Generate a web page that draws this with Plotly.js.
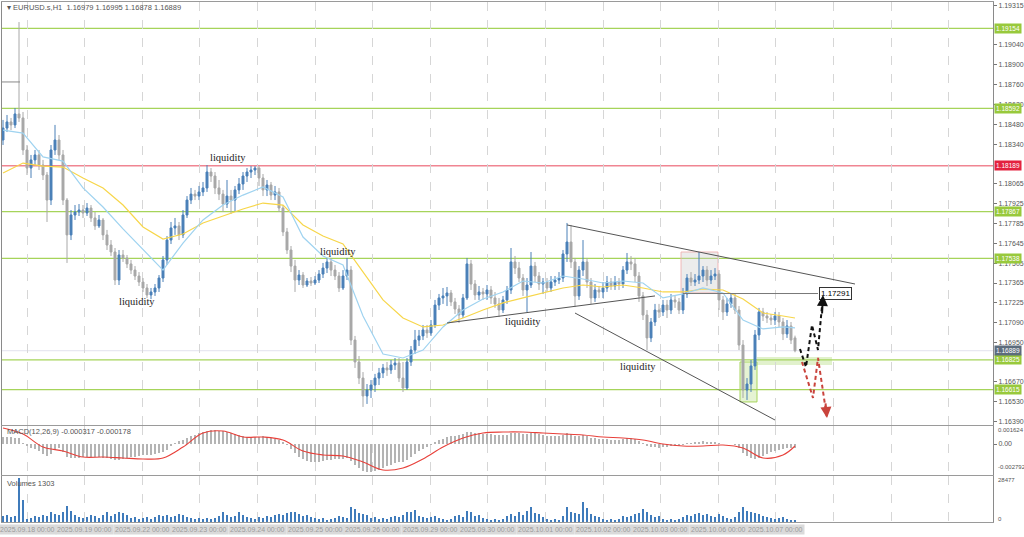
<!DOCTYPE html>
<html><head><meta charset="utf-8">
<script src="https://cdn.plot.ly/plotly-3.0.1.min.js"></script>
<style>html,body{margin:0;padding:0;background:#fff;}#chart{width:1024px;height:537px;}</style>
</head><body><div id="chart"></div>
<script>
// ---- Data (EURUSD.s, H1) ----
const openP = [
1.18370,1.18454,1.18497,1.18476,1.18553,1.18525,1.18300,1.18173,1.18230,1.18265,
1.18194,1.18124,1.17948,1.18300,1.18370,1.18265,1.17948,1.17703,1.17843,1.17864,
1.17878,1.17857,1.17892,1.17822,1.17766,1.17808,1.17703,1.17632,1.17583,1.17386,
1.17562,1.17541,1.17499,1.17456,1.17414,1.17372,1.17330,1.17281,1.17302,1.17330,
1.17400,1.17527,1.17667,1.17752,1.17766,1.17703,1.17843,1.17948,1.17990,1.17976,
1.18005,1.18033,1.18145,1.18117,1.18033,1.17990,1.17920,1.17976,1.17948,1.18019,
1.18061,1.18117,1.18145,1.18159,1.18173,1.18103,1.18019,1.18054,1.17983,1.18005,
1.17892,1.17724,1.17597,1.17484,1.17386,1.17421,1.17351,1.17379,1.17365,1.17386,
1.17428,1.17470,1.17513,1.17456,1.17414,1.17330,1.17414,1.17456,1.16964,1.16810,
1.16697,1.16571,1.16613,1.16648,1.16697,1.16733,1.16768,1.16754,1.16789,1.16803,
1.16697,1.16627,1.16810,1.16894,1.16964,1.16993,1.17035,1.17014,1.17070,1.17210,
1.17260,1.17274,1.17295,1.17232,1.17182,1.17140,1.17260,1.17499,1.17358,1.17281,
1.17302,1.17288,1.17316,1.17260,1.17218,1.17175,1.17246,1.17316,1.17513,1.17470,
1.17400,1.17316,1.17351,1.17484,1.17414,1.17358,1.17372,1.17330,1.17372,1.17386,
1.17400,1.17569,1.17653,1.17513,1.17274,1.17456,1.17513,1.17372,1.17260,1.17316,
1.17302,1.17330,1.17372,1.17344,1.17372,1.17358,1.17456,1.17513,1.17499,1.17414,
1.17274,1.17140,1.16979,1.17091,1.17175,1.17161,1.17210,1.17175,1.17246,1.17232,
1.17175,1.17288,1.17400,1.17372,1.17386,1.17414,1.17456,1.17386,1.17414,1.17428,
1.17246,1.17161,1.17218,1.17260,1.17175,1.16929,1.16613,1.16655,1.16782,1.17000,
1.17161,1.17133,1.17119,1.17105,1.17133,1.17091,1.17007,1.17063,1.16979];
const highP = [
1.18511,1.18546,1.18525,1.18595,1.19199,1.18567,1.18335,1.18265,1.18300,1.18300,
1.18230,1.18145,1.18335,1.18476,1.18405,1.18300,1.17962,1.17878,1.17913,1.17920,
1.17913,1.17927,1.17913,1.17864,1.17843,1.17822,1.17738,1.17667,1.17611,1.17597,
1.17597,1.17562,1.17527,1.17484,1.17442,1.17400,1.17358,1.17330,1.17358,1.17421,
1.17555,1.17695,1.17794,1.17822,1.17794,1.17878,1.17976,1.18033,1.18019,1.18047,
1.18075,1.18194,1.18173,1.18145,1.18089,1.18019,1.18089,1.18019,1.18047,1.18103,
1.18145,1.18173,1.18187,1.18187,1.18187,1.18131,1.18089,1.18075,1.18047,1.18033,
1.17913,1.17752,1.17625,1.17527,1.17456,1.17442,1.17400,1.17407,1.17414,1.17456,
1.17506,1.17541,1.17541,1.17492,1.17442,1.17456,1.17541,1.17484,1.16993,1.16852,
1.16739,1.16655,1.16683,1.16726,1.16768,1.16796,1.16810,1.16824,1.16838,1.16838,
1.16810,1.16838,1.16922,1.17035,1.17035,1.17070,1.17070,1.17105,1.17246,1.17288,
1.17330,1.17337,1.17316,1.17260,1.17210,1.17288,1.17541,1.17527,1.17386,1.17344,
1.17330,1.17351,1.17344,1.17302,1.17260,1.17274,1.17344,1.17611,1.17555,1.17513,
1.17428,1.17400,1.17583,1.17513,1.17442,1.17400,1.17400,1.17414,1.17414,1.17442,
1.17597,1.17787,1.17773,1.17541,1.17484,1.17667,1.17541,1.17400,1.17358,1.17344,
1.17372,1.17414,1.17400,1.17414,1.17400,1.17484,1.17576,1.17555,1.17541,1.17442,
1.17302,1.17175,1.17119,1.17218,1.17218,1.17246,1.17246,1.17288,1.17274,1.17260,
1.17330,1.17428,1.17442,1.17428,1.17583,1.17484,1.17484,1.17456,1.17470,1.17456,
1.17274,1.17260,1.17288,1.17288,1.17203,1.16964,1.16697,1.16824,1.17035,1.17190,
1.17190,1.17161,1.17147,1.17161,1.17161,1.17119,1.17105,1.17091,1.16995];
const lowP = [
1.18335,1.18426,1.18440,1.18454,1.18497,1.18265,1.18124,1.18103,1.18194,1.18159,
1.18089,1.17794,1.17913,1.18265,1.18230,1.17913,1.17506,1.17667,1.17808,1.17836,
1.17822,1.17836,1.17794,1.17738,1.17752,1.17667,1.17597,1.17555,1.17351,1.17351,
1.17513,1.17470,1.17428,1.17386,1.17344,1.17302,1.17259,1.17252,1.17274,1.17302,
1.17372,1.17492,1.17639,1.17703,1.17667,1.17681,1.17822,1.17920,1.17948,1.17948,
1.17976,1.18005,1.18075,1.17990,1.17948,1.17864,1.17892,1.17850,1.17864,1.17990,
1.18019,1.18075,1.18103,1.18124,1.18047,1.17976,1.17976,1.17948,1.17948,1.17864,
1.17695,1.17569,1.17442,1.17302,1.17351,1.17330,1.17337,1.17344,1.17351,1.17365,
1.17400,1.17435,1.17414,1.17386,1.17302,1.17316,1.17386,1.16929,1.16768,1.16655,
1.16494,1.16515,1.16557,1.16599,1.16648,1.16697,1.16712,1.16726,1.16754,1.16669,
1.16599,1.16613,1.16782,1.16866,1.16922,1.16964,1.16979,1.16993,1.17049,1.17175,
1.17218,1.17203,1.17203,1.17147,1.17084,1.17119,1.17246,1.17316,1.17246,1.17246,
1.17246,1.17246,1.17218,1.17190,1.17126,1.17154,1.17218,1.17288,1.17428,1.17372,
1.17274,1.17161,1.17330,1.17372,1.17316,1.17288,1.17302,1.17302,1.17344,1.17358,
1.17372,1.17513,1.17470,1.17196,1.17246,1.17414,1.17330,1.17218,1.17232,1.17259,
1.17259,1.17302,1.17316,1.17316,1.17316,1.17330,1.17428,1.17456,1.17372,1.17232,
1.17105,1.16894,1.16950,1.17063,1.17119,1.17133,1.17119,1.17147,1.17190,1.17147,
1.17147,1.17260,1.17344,1.17344,1.17358,1.17372,1.17344,1.17358,1.17386,1.17175,
1.17105,1.17133,1.17190,1.17147,1.16894,1.16557,1.16543,1.16599,1.16754,1.16964,
1.17098,1.17084,1.17070,1.17070,1.17056,1.16964,1.16979,1.16936,1.16878];
const closeP = [
1.18454,1.18497,1.18476,1.18553,1.18525,1.18300,1.18173,1.18230,1.18265,1.18194,
1.18124,1.17948,1.18300,1.18370,1.18265,1.17948,1.17703,1.17843,1.17864,1.17878,
1.17857,1.17892,1.17822,1.17766,1.17808,1.17703,1.17632,1.17583,1.17386,1.17562,
1.17541,1.17499,1.17456,1.17414,1.17372,1.17330,1.17281,1.17302,1.17330,1.17400,
1.17527,1.17667,1.17752,1.17766,1.17703,1.17843,1.17948,1.17990,1.17976,1.18005,
1.18033,1.18145,1.18117,1.18033,1.17990,1.17920,1.17976,1.17948,1.18019,1.18061,
1.18117,1.18145,1.18159,1.18173,1.18103,1.18019,1.18054,1.17983,1.18005,1.17892,
1.17724,1.17597,1.17484,1.17386,1.17421,1.17351,1.17379,1.17365,1.17386,1.17428,
1.17470,1.17513,1.17456,1.17414,1.17330,1.17414,1.17456,1.16964,1.16810,1.16697,
1.16571,1.16613,1.16648,1.16697,1.16733,1.16768,1.16754,1.16789,1.16803,1.16697,
1.16627,1.16810,1.16894,1.16964,1.16993,1.17035,1.17014,1.17070,1.17210,1.17260,
1.17274,1.17295,1.17232,1.17182,1.17140,1.17260,1.17499,1.17358,1.17281,1.17302,
1.17288,1.17316,1.17260,1.17218,1.17175,1.17246,1.17316,1.17513,1.17470,1.17400,
1.17316,1.17351,1.17484,1.17414,1.17358,1.17372,1.17330,1.17372,1.17386,1.17400,
1.17569,1.17653,1.17513,1.17274,1.17456,1.17513,1.17372,1.17260,1.17316,1.17302,
1.17330,1.17372,1.17344,1.17372,1.17358,1.17456,1.17513,1.17499,1.17414,1.17274,
1.17140,1.16979,1.17091,1.17175,1.17161,1.17210,1.17175,1.17246,1.17232,1.17175,
1.17288,1.17400,1.17372,1.17386,1.17414,1.17456,1.17386,1.17414,1.17428,1.17246,
1.17161,1.17218,1.17260,1.17175,1.16929,1.16613,1.16655,1.16782,1.17000,1.17161,
1.17133,1.17119,1.17105,1.17133,1.17091,1.17007,1.17063,1.16964,1.16889];
const volumes = [
3700,4300,3100,3700,28477,14500,1900,2500,3700,3100,
4300,3700,6200,5000,4300,6200,10500,7400,4300,3100,
2500,3100,4300,3700,2500,4300,6200,3700,5000,6200,
5600,4300,2500,3100,1900,2500,3100,1900,3100,4300,
3700,4300,3100,3700,5000,4300,3100,2500,1900,2500,
1900,2500,1900,2500,3700,6200,4300,3100,3700,6800,
4300,3100,2500,1900,3100,2500,3700,3100,4300,5000,
4300,5600,6200,6800,5000,3700,4300,3100,2500,1900,
2500,1200,1900,2500,3700,3100,2500,9900,8700,5600,
5000,4300,2500,3100,1900,2500,1900,3100,3700,3100,
4300,6800,6200,8000,3700,3100,2500,3100,3700,2500,
1900,1200,1900,3700,4300,3100,7400,6800,3700,4300,
2500,1900,1200,1900,1200,1900,3700,5000,3700,6200,
4300,7400,9900,5600,5000,3100,1900,1200,1900,1200,
3700,9900,6200,5600,5000,13000,9300,5000,3700,3100,
1900,1200,1900,1200,1900,3700,3100,3700,5000,5600,
8700,6800,4300,3100,3700,1900,1200,1900,1200,1900,
3100,4300,3700,5000,5600,4300,5000,3700,3100,5000,
3700,2500,1900,3100,6200,9900,7400,6200,5600,5000,
3700,3100,2500,1900,2500,3100,1900,1200,1303];
const macdMain = [
0.00063,0.00063,0.00063,0.00054,0.00054,0.00009,-0.00018,-0.00036,-0.00045,-0.00063,
-0.00090,-0.00108,-0.00090,-0.00054,-0.00036,-0.00072,-0.00117,-0.00126,-0.00126,-0.00126,
-0.00117,-0.00117,-0.00117,-0.00117,-0.00117,-0.00126,-0.00126,-0.00135,-0.00144,-0.00144,
-0.00135,-0.00126,-0.00117,-0.00117,-0.00108,-0.00099,-0.00099,-0.00099,-0.00090,-0.00081,
-0.00072,-0.00054,-0.00018,0.00009,0.00027,0.00036,0.00054,0.00072,0.00081,0.00099,
0.00108,0.00117,0.00126,0.00126,0.00117,0.00117,0.00108,0.00099,0.00090,0.00081,
0.00072,0.00063,0.00063,0.00063,0.00063,0.00072,0.00063,0.00054,0.00045,0.00036,
0.00018,-0.00009,-0.00045,-0.00081,-0.00117,-0.00135,-0.00153,-0.00162,-0.00162,-0.00162,
-0.00153,-0.00144,-0.00144,-0.00135,-0.00135,-0.00135,-0.00126,-0.00153,-0.00189,-0.00216,
-0.00243,-0.00252,-0.00252,-0.00243,-0.00234,-0.00216,-0.00198,-0.00189,-0.00171,-0.00162,
-0.00162,-0.00144,-0.00117,-0.00090,-0.00063,-0.00045,-0.00027,-0.00009,0.00018,0.00036,
0.00045,0.00063,0.00072,0.00072,0.00081,0.00090,0.00108,0.00108,0.00099,0.00099,
0.00090,0.00090,0.00090,0.00081,0.00081,0.00081,0.00081,0.00099,0.00099,0.00099,
0.00090,0.00090,0.00099,0.00099,0.00090,0.00081,0.00072,0.00072,0.00072,0.00072,
0.00081,0.00099,0.00090,0.00072,0.00072,0.00081,0.00072,0.00054,0.00054,0.00045,
0.00045,0.00045,0.00036,0.00036,0.00036,0.00045,0.00054,0.00054,0.00045,0.00027,
0.00009,-0.00018,-0.00027,-0.00027,-0.00036,-0.00027,-0.00027,-0.00018,-0.00018,-0.00018,
-0.00009,0.00009,0.00009,0.00018,0.00018,0.00027,0.00018,0.00018,0.00018,0.00009,
0,0,0,-0.00009,-0.00036,-0.00081,-0.00108,-0.00126,-0.00135,-0.00126,
-0.00108,-0.00090,-0.00072,-0.00063,-0.00054,-0.00045,-0.00036,-0.00036,-0.000317];
// indicator lines sampled at these bar indices
const lineIdx = [0,5,10,15,20,25,30,35,40,45,50,55,60,65,70,75,80,85,90,95,100,105,110,115,120,125,130,135,140,145,150,155,160,165,170,175,180,185,190,195,198];
const fastMA = [1.18440,1.18419,1.18251,1.18222,1.18033,1.17899,1.17745,1.17597,1.17456,1.17646,
1.17808,1.17913,1.17983,1.18040,1.17969,1.17688,1.17555,1.17492,1.17133,1.16866,
1.16838,1.16894,1.17056,1.17175,1.17253,1.17302,1.17379,1.17365,1.17414,1.17393,
1.17365,1.17379,1.17365,1.17260,1.17288,1.17330,1.17295,1.17105,1.17042,1.17056,1.17049];
const slowMA = [1.18138,1.18208,1.18187,1.18180,1.18103,1.18033,1.17913,1.17759,1.17674,1.17709,
1.17787,1.17836,1.17885,1.17927,1.17913,1.17773,1.17695,1.17639,1.17442,1.17246,
1.17119,1.17056,1.17070,1.17119,1.17175,1.17225,1.17260,1.17295,1.17330,1.17351,
1.17337,1.17351,1.17330,1.17302,1.17302,1.17323,1.17316,1.17253,1.17154,1.17133,1.17119];
const macdSignal = [0.00144,0.00090,-0.00027,-0.00063,-0.00117,-0.00117,-0.00126,-0.00135,-0.00126,-0.00027,
0.00099,0.00117,0.00063,0.00063,0.00036,-0.00063,-0.00099,-0.00108,-0.00162,-0.00234,
-0.00216,-0.00135,-0.00027,0.00054,0.00099,0.00108,0.00108,0.00099,0.00090,0.00081,
0.00063,0.00054,0.00036,0,-0.00018,-0.00018,-0.00009,-0.00036,-0.00126,-0.00099,-0.000178];
// price scale labels
const priceTicks = [1.19315,1.19040,1.18900,1.18760,1.18620,1.18480,1.18340,1.18065,1.17925,1.17785,1.17645,1.17505,1.17365,1.17225,1.17090,1.16950,1.16670,1.16530,1.16390];
const levelPrices = [1.19154,1.18592,1.18189,1.17867,1.17538,1.16825,1.16615];
const levelKinds  = ['g','g','r','g','g','g','g'];
const lastPrice = 1.16889;
const targetPrice = 1.17291;
const macdMax = 0.001624, macdMin = -0.002792, volMax = 28477;
const dateLabels = ['2025.09.18 00:00','2025.09.19 00:00','2025.09.22 00:00','2025.09.23 00:00','2025.09.24 00:00','2025.09.25 00:00','2025.09.26 00:00','2025.09.29 00:00','2025.09.30 00:00','2025.10.01 00:00','2025.10.02 00:00','2025.10.03 00:00','2025.10.06 00:00','2025.10.07 00:00'];
// drawn objects (bar index, price)
const trendUpper = [[141,1.17773],[213,1.17358]];
const trendLower = [[143,1.17154],[193,1.16402]];
const trendRise  = [[111,1.17084],[163,1.17274]];
const blackPathX = [199.25,200.75,202.25,203.75,205.0];
const blackPathY = [1.16901,1.16775,1.17070,1.16894,1.17281];
const redPathX = [199.75,202.5,203.75,206.0];
const redPathY = [1.16810,1.16557,1.16838,1.16416];
const liquidityNotes = [[33.5,1.17236],[56.25,1.18244],[83.75,1.17583],[130,1.17091],[158.75,1.16775]];

// ---- Layout helpers ----
const W=1024,H=537;
const py = v => 1 - v/H;
const idx = closeP.map((_,i)=>i);
const gridVals = Array.from({length:17},(_,k)=>6+14.4*k);
const XR = [-0.25,247.5];
const FONT = 'Liberation Sans, Arial, sans-serif';
const GREEN='#a6d45a', RED='#f08592';

const traces = [
 {type:'candlestick', x:idx, open:openP, high:highP, low:lowP, close:closeP, xaxis:'x', yaxis:'y',
  increasing:{line:{color:'#4b80b8',width:1}, fillcolor:'#4b80b8'},
  decreasing:{line:{color:'#a8a8a8',width:1}, fillcolor:'#a8a8a8'},
  whiskerwidth:0, hoverinfo:'skip'},
 {type:'scatter', mode:'lines', x:lineIdx, y:slowMA, xaxis:'x', yaxis:'y', line:{color:'#f7d64a',width:1.2}, hoverinfo:'skip'},
 {type:'scatter', mode:'lines', x:lineIdx, y:fastMA, xaxis:'x', yaxis:'y', line:{color:'#9fd3f0',width:1.2}, hoverinfo:'skip'},
 {type:'scatter', mode:'lines', x:blackPathX, y:blackPathY, xaxis:'x', yaxis:'y', line:{color:'#111',width:2,dash:'4px,3px'}, hoverinfo:'skip'},
 {type:'scatter', mode:'lines', x:redPathX, y:redPathY, xaxis:'x', yaxis:'y', line:{color:'#c9433c',width:2,dash:'4px,3px'}, hoverinfo:'skip'},
 {type:'bar', x:idx, y:macdMain, xaxis:'x2', yaxis:'y2', marker:{color:'#b4b4b4'}, width:0.5, hoverinfo:'skip'},
 {type:'scatter', mode:'lines', x:lineIdx, y:macdSignal, xaxis:'x2', yaxis:'y2', line:{color:'#e8403a',width:1.1,shape:'spline'}, hoverinfo:'skip'},
 {type:'bar', x:idx, y:volumes, xaxis:'x3', yaxis:'y3', marker:{color:'#3f7bbb'}, width:0.6, hoverinfo:'skip'}
];

function xax(anchor){
 return {domain:[2/W,993/W], range:XR, anchor:anchor, showticklabels:false, ticks:'', tickvals:gridVals,
  showgrid:true, gridcolor:'#d6d6d6', griddash:'dash', gridwidth:1, zeroline:false,
  showline:true, linecolor:'#9a9a9a', linewidth:1, mirror:true, rangeslider:{visible:false}, fixedrange:true};
}
function yax(dom, range, tv, tt){
 return {domain:dom, range:range, side:'right', tickvals:tv, ticktext:tt, ticks:'outside', ticklen:3, tickcolor:'#777',
  tickfont:{family:FONT,size:7,color:'#555'}, showgrid:false, zeroline:false, showline:true, linecolor:'#8a8a8a', mirror:true, fixedrange:true};
}
const xa1 = xax('y'); const xa2 = xax('y2'); xa2.matches='x'; const xa3 = xax('y3'); xa3.matches='x';

const shapes = [];
levelPrices.forEach((p,i)=>{
 shapes.push({type:'line', xref:'paper', yref:'y', x0:2/W, x1:993/W, y0:p, y1:p, line:{color: levelKinds[i]==='r'?RED:GREEN, width:1.3}, layer:'below'});
});
shapes.push({type:'line', xref:'paper', yref:'y', x0:2/W, x1:993/W, y0:lastPrice, y1:lastPrice, line:{color:'#e2e2ee', width:1}, layer:'below'});
shapes.push({type:'rect', xref:'x', yref:'y', x0:188.5, x1:207.25, y0:1.16789, y1:1.16845, fillcolor:'rgba(170,215,110,0.35)', line:{width:0}, layer:'below'});
shapes.push({type:'rect', xref:'x', yref:'y', x0:169.5, x1:178.75, y0:1.17295, y1:1.17583, fillcolor:'rgba(200,200,200,0.35)', line:{color:'rgba(240,170,170,0.8)',width:1}, layer:'below'});
shapes.push({type:'rect', xref:'x', yref:'y', x0:184.25, x1:188.5, y0:1.16529, y1:1.16810, fillcolor:'rgba(170,215,110,0.3)', line:{color:'#a6d45a',width:1}, layer:'below'});
[trendUpper, trendLower, trendRise].forEach(t=>{
 shapes.push({type:'line', xref:'x', yref:'y', x0:t[0][0], y0:t[0][1], x1:t[1][0], y1:t[1][1], line:{color:'#555',width:1}});
});
shapes.push({type:'line', xref:'x', yref:'y', x0:170, x1:203.75, y0:targetPrice, y1:targetPrice, line:{color:'#777',width:1}});
shapes.push({type:'line', xref:'x', yref:'y', x0:-0.25, x1:4.25, y0:1.18778, y1:1.18778, line:{color:'#888',width:1}});

const ann = [];
const boxFont = {family:FONT,size:6.5,color:'#fff'};
levelPrices.forEach((p,i)=>{
 ann.push({xref:'paper', yref:'y', x:994/W, y:p, xanchor:'left', yanchor:'middle', text:p.toFixed(5), showarrow:false,
  font:boxFont, bgcolor: levelKinds[i]==='r'?'#e3223f':'#98c93c', borderpad:1});
});
ann.push({xref:'paper', yref:'y', x:994/W, y:lastPrice, xanchor:'left', yanchor:'middle', text:lastPrice.toFixed(5), showarrow:false,
 font:boxFont, bgcolor:'#5c6c7c', borderpad:1});
ann.push({xref:'x', yref:'y', x:203.9, y:targetPrice, xanchor:'left', yanchor:'middle', text:targetPrice.toFixed(5), showarrow:false,
 font:{family:FONT,size:8,color:'#000'}, bgcolor:'#fff', bordercolor:'#333', borderwidth:1, borderpad:1});
liquidityNotes.forEach(n=>{
 ann.push({xref:'x', yref:'y', x:n[0], y:n[1], text:'liquidity', showarrow:false, font:{family:'Liberation Serif, DejaVu Serif, serif', size:10.5, color:'#222'}});
});
ann.push({xref:'x', yref:'y', axref:'x', ayref:'y', x:blackPathX[4], y:blackPathY[4], ax:204.75, ay:1.17140, showarrow:true, arrowhead:2, arrowsize:1.1, arrowwidth:2, arrowcolor:'#111', text:''});
ann.push({xref:'x', yref:'y', axref:'x', ayref:'y', x:redPathX[3], y:redPathY[3], ax:205.6, ay:1.16530, showarrow:true, arrowhead:2, arrowsize:1.1, arrowwidth:2, arrowcolor:'#c9433c', text:''});
const hdr = {family:FONT,size:7.5,color:'#555'};
ann.push({xref:'paper', yref:'paper', x:5/W, y:py(8), xanchor:'left', yanchor:'middle', showarrow:false,
 text:'\u25BE EURUSD.s,H1  1.16979 1.16995 1.16878 1.16889', font:hdr});
ann.push({xref:'paper', yref:'paper', x:5/W, y:py(431), xanchor:'left', yanchor:'middle', showarrow:false,
 text:'MACD(12,26,9) -0.000317 -0.000178', font:hdr});
ann.push({xref:'paper', yref:'paper', x:5/W, y:py(483), xanchor:'left', yanchor:'middle', showarrow:false,
 text:'Volumes 1303', font:hdr});
// sub-window scale labels
const scaleFont = {family:FONT,size:6,color:'#555'};
[[macdMax.toFixed(6),430],[macdMin.toFixed(6),467],[String(volMax),480],['0',519]].forEach(s=>{
 ann.push({xref:'paper', yref:'paper', x:996/W, y:py(s[1]), xanchor:'left', yanchor:'middle', showarrow:false, text:s[0], font:scaleFont});
});
dateLabels.forEach((d,k)=>{
 ann.push({xref:'x3', yref:'paper', x:gridVals[k], y:py(529), xanchor:'center', yanchor:'middle', showarrow:false,
  text:d, font:{family:FONT,size:7,color:'#9a9a9a'}, bgcolor:'#dadada', borderpad:1});
});

const layout = {
 width:W, height:H, margin:{l:0,r:0,t:0,b:0}, paper_bgcolor:'#fff', plot_bgcolor:'#fff', showlegend:false,
 bargap:0, hovermode:false,
 xaxis:xa1, xaxis2:xa2, xaxis3:xa3,
 yaxis: yax([py(425),py(2)], [1.16367,1.19340], priceTicks, priceTicks.map(v=>v.toFixed(5))),
 yaxis2: yax([py(475),py(426)], [macdMin,macdMax], [0], ['0.00']),
 yaxis3: yax([py(522),py(476)], [0,30000], [], []),
 shapes:shapes, annotations:ann
};
Plotly.newPlot('chart', traces, layout, {staticPlot:true, displayModeBar:false});
</script>
</body></html>
